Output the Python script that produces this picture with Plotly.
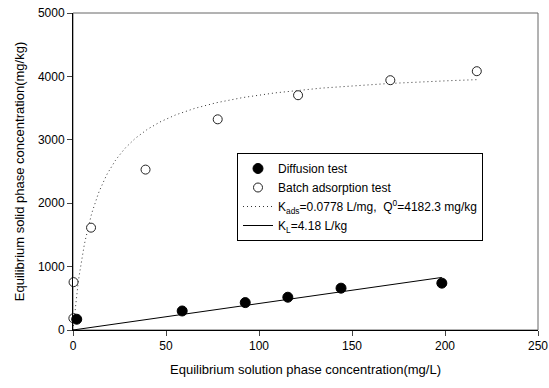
import numpy as np
import plotly.graph_objects as go

# Measured data
diff_c = [2, 58.7, 92.6, 115.5, 144.1, 198.3]
diff_q = [170, 300, 432, 517, 660, 739]

batch_c = [0.2, 0.3, 9.7, 39, 77.8, 121, 170.6, 217.1]
batch_q = [185, 755, 1614, 2530, 3323, 3703, 3940, 4082]

# Fitted parameters
K_ADS = 0.0778      # L/mg
Q0 = 4182.3         # mg/kg
K_L = 4.18          # L/kg

x_ticks = [0, 50, 100, 150, 200, 250]
y_ticks = [0, 1000, 2000, 3000, 4000, 5000]

# Langmuir isotherm and linear isotherm curves
c_lang = np.linspace(0, 217, 400)
q_lang = Q0 * K_ADS * c_lang / (1 + K_ADS * c_lang)
c_lin = np.array([0, 198.3])
q_lin = K_L * c_lin

FONT = "Liberation Sans, Arial, sans-serif"
DOT = "1px,3px"

fig = go.Figure()
fig.add_trace(go.Scatter(
    x=c_lang, y=q_lang, mode="lines", showlegend=False,
    line=dict(color="#333333", width=1, dash=DOT), hoverinfo="skip"))
fig.add_trace(go.Scatter(
    x=c_lin, y=q_lin, mode="lines", showlegend=False,
    line=dict(color="black", width=1), hoverinfo="skip"))
fig.add_trace(go.Scatter(
    x=batch_c, y=batch_q, mode="markers", name="Batch adsorption test",
    legendrank=2, cliponaxis=False,
    marker=dict(symbol="circle", size=9, color="white",
                line=dict(color="#222222", width=1))))
fig.add_trace(go.Scatter(
    x=diff_c, y=diff_q, mode="markers", name="Diffusion test",
    legendrank=1, cliponaxis=False,
    marker=dict(symbol="circle", size=10, color="black",
                line=dict(color="black", width=1))))
# legend-only entries for the fitted lines
fig.add_trace(go.Scatter(
    x=[None], y=[None], mode="lines", legendrank=3,
    name="K<sub>ads</sub>=0.0778 L/mg,  Q<sup>0</sup>=4182.3 mg/kg",
    line=dict(color="#333333", width=1, dash=DOT)))
fig.add_trace(go.Scatter(
    x=[None], y=[None], mode="lines", legendrank=4,
    name="K<sub>L</sub>=4.18 L/kg",
    line=dict(color="black", width=1)))

fig.update_layout(
    width=549, height=388,
    margin=dict(l=73, r=11, t=13, b=58),
    paper_bgcolor="white", plot_bgcolor="white",
    font=dict(family=FONT, size=12, color="black"),
    legend=dict(
        x=(237 - 73) / 465, y=(330 - 153) / 317,
        xanchor="left", yanchor="top",
        bordercolor="black", borderwidth=1,
        bgcolor="white",
        font=dict(family=FONT, size=12, color="black"),
        tracegroupgap=0,
    ),
    shapes=[dict(type="rect", xref="paper", yref="paper",
                 x0=0, y0=0, x1=1, y1=1,
                 line=dict(color="#666666", width=1), layer="below")],
)
fig.update_xaxes(
    range=[0, 250], tickvals=x_ticks, ticks="outside", ticklen=5,
    showline=True, linecolor="black", linewidth=1, showgrid=False,
    zeroline=False, tickfont=dict(size=12), automargin=False,
    title=dict(text="Equilibrium solution phase concentration(mg/L)",
               font=dict(size=13), standoff=12))
fig.update_yaxes(
    range=[0, 5000], tickvals=y_ticks, ticks="outside", ticklen=5,
    showline=True, linecolor="black", linewidth=1, showgrid=False,
    zeroline=False, tickfont=dict(size=12), automargin=False,
    title=dict(text="Equilibrium solid phase concentration(mg/kg)",
               font=dict(size=13), standoff=10))

fig.write_html("out.html")
